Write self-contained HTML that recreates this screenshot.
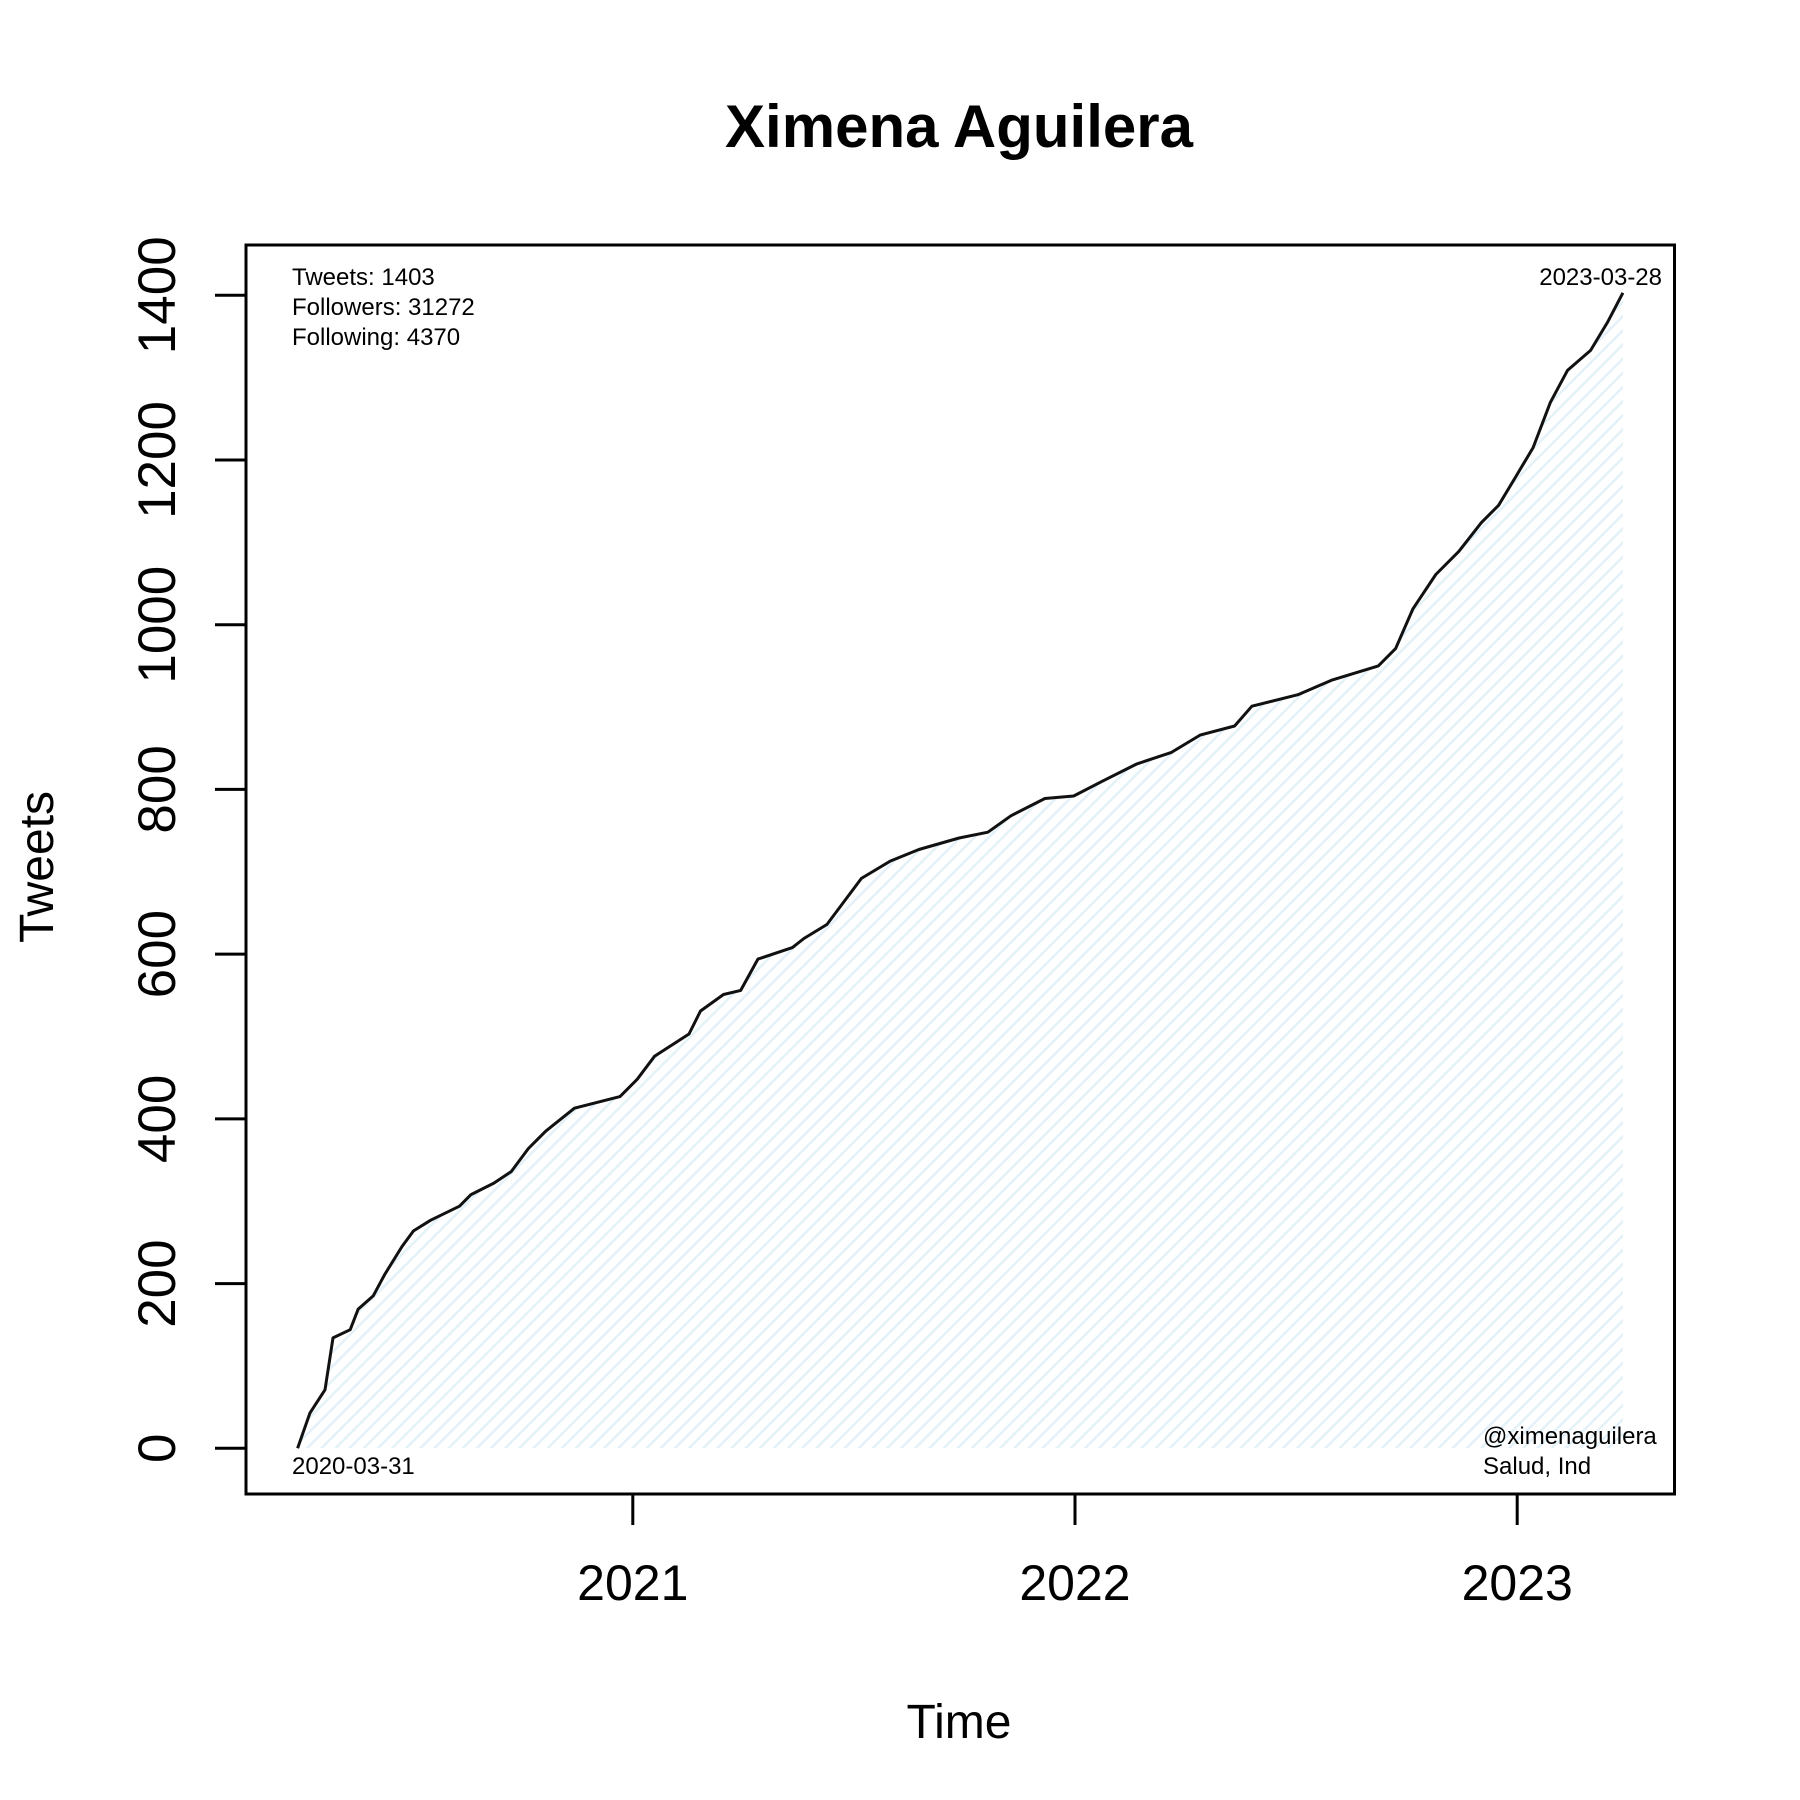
<!DOCTYPE html>
<html><head><meta charset="utf-8"><style>
html,body{margin:0;padding:0;background:#fff;}
svg{display:block;font-family:"Liberation Sans",Arial,sans-serif;}
</style></head><body>
<svg id="chart" width="1800" height="1800" viewBox="0 0 1800 1800">
<defs>
<pattern id="hatch" patternUnits="userSpaceOnUse" width="10" height="10" patternTransform="rotate(45)">
<rect width="10" height="10" fill="#ffffff"/>
<line x1="0" y1="0" x2="0" y2="10" stroke="#e3f1f8" stroke-width="5"/>
</pattern>
</defs>
<text x="959" y="147" font-size="60" font-weight="bold" text-anchor="middle">Ximena Aguilera</text>
<g id="plot"></g>
<rect x="246" y="245" width="1428.5" height="1249" fill="none" stroke="#000" stroke-width="3"/>
<text x="292" y="285" font-size="24">Tweets: 1403</text>
<text x="292" y="315" font-size="24">Followers: 31272</text>
<text x="292" y="345" font-size="24">Following: 4370</text>
<text x="1662" y="285" font-size="24" text-anchor="end">2023-03-28</text>
<text x="292" y="1474" font-size="24">2020-03-31</text>
<text x="1483" y="1444" font-size="24">@ximenaguilera</text>
<text x="1483" y="1474" font-size="24">Salud, Ind</text>
<text x="959" y="1738" font-size="48" text-anchor="middle">Time</text>
<text transform="translate(53,867) rotate(-90)" font-size="48" text-anchor="middle">Tweets</text>
</svg>
<script>
const years = [2020.242,2020.270,2020.304,2020.322,2020.361,2020.379,2020.413,2020.439,2020.478,2020.504,2020.543,2020.608,2020.634,2020.686,2020.725,2020.764,2020.803,2020.868,2020.971,2021.010,2021.049,2021.127,2021.153,2021.205,2021.244,2021.283,2021.361,2021.387,2021.439,2021.478,2021.517,2021.582,2021.647,2021.738,2021.803,2021.855,2021.932,2021.997,2022.062,2022.140,2022.218,2022.283,2022.361,2022.400,2022.504,2022.582,2022.686,2022.725,2022.764,2022.816,2022.868,2022.919,2022.958,2022.997,2023.036,2023.075,2023.114,2023.166,2023.205,2023.239];
const tweets = [0,43,71,134,144,169,185,211,245,264,277,294,308,322,336,364,385,413,427,448,476,503,531,551,556,594,608,619,636,664,692,713,727,741,748,768,789,792,810,831,845,866,877,901,915,933,950,971,1019,1061,1089,1124,1145,1180,1215,1270,1309,1333,1368,1403];
const yTicks = [0,200,400,600,800,1000,1200,1400];
const xTicks = [2021,2022,2023];
const xTickLabels = ["2021","2022","2023"];

const NS = "http://www.w3.org/2000/svg";
const xs = y => 632.8 + (y - 2021) * 442.2;
const ys = v => 1448.3 - v * 0.8236;
const g = document.getElementById('plot');
function mk(tag, attrs){const e=document.createElementNS(NS,tag);for(const k in attrs)e.setAttribute(k,attrs[k]);return e;}

let pts = years.map((y,i)=>xs(y).toFixed(1)+','+ys(tweets[i]).toFixed(1));
const area = mk('polygon',{points: pts.join(' ')+' '+xs(years[years.length-1]).toFixed(1)+','+ys(0)+' '+xs(years[0]).toFixed(1)+','+ys(0), fill:'url(#hatch)'});


g.appendChild(area);
const line = mk('polyline',{points: pts.join(' '), fill:'none', stroke:'#111', 'stroke-width':3, 'stroke-linejoin':'round'});


g.appendChild(line);

yTicks.forEach(v=>{
  const t = mk('line',{x1:215,x2:246,y1:ys(v),y2:ys(v),stroke:'#000','stroke-width':3});
  
  
  g.appendChild(t);
  const l = mk('text',{transform:`translate(175,${ys(v)}) rotate(-90)`,'font-size':53,'text-anchor':'middle'});
  l.textContent = String(v);
  
  
  g.appendChild(l);
});
xTicks.forEach((y,i)=>{
  const t = mk('line',{x1:xs(y),x2:xs(y),y1:1494,y2:1525,stroke:'#000','stroke-width':3});
  
  
  g.appendChild(t);
  const l = mk('text',{x:xs(y),y:1600,'font-size':50,'text-anchor':'middle'});
  l.textContent = xTickLabels[i];
  
  
  g.appendChild(l);
});
</script>
</body></html>
